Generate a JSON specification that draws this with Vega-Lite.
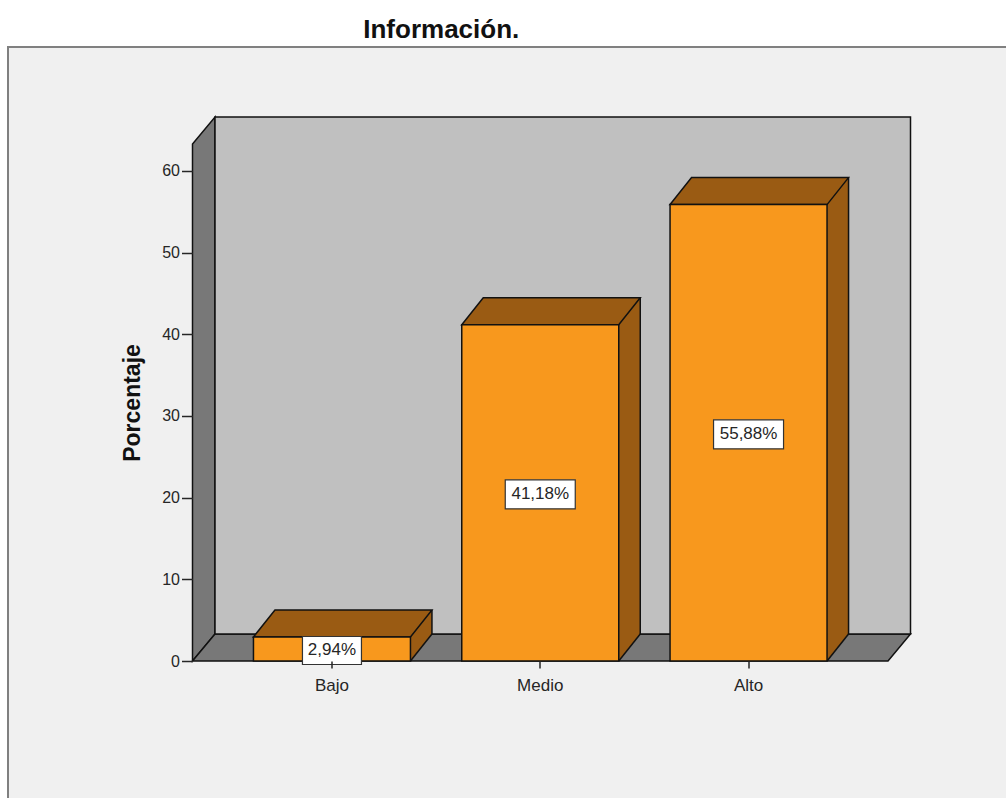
{
  "$schema": "https://vega.github.io/schema/vega-lite/v6.json",
  "width": 695.5,
  "height": 517,
  "autosize": {"type": "none"},
  "padding": {"left": 192.5, "top": 144, "right": 118, "bottom": 137},
  "background": "white",
  "config": {"view": {"stroke": null}, "font": "Liberation Sans"},
  "title": {
    "text": "Información.",
    "font": "Liberation Sans",
    "fontSize": 26,
    "fontWeight": "bold",
    "color": "#111111",
    "anchor": "middle",
    "frame": "group",
    "baseline": "alphabetic",
    "dx": -99,
    "dy": 27,
    "offset": 9
  },
  "data": {
    "values": [
      {"Categoria": "Bajo", "Porcentaje": 2.94, "Etiqueta": "2,94%"},
      {"Categoria": "Medio", "Porcentaje": 41.18, "Etiqueta": "41,18%"},
      {"Categoria": "Alto", "Porcentaje": 55.88, "Etiqueta": "55,88%"}
    ]
  },
  "resolve": {"scale": {"y": "independent"}},
  "layer": [
    {
      "description": "outer chart frame",
      "data": {"values": [{}]},
      "mark": {"type": "rect", "fill": "#f0f0f0", "stroke": "#808080", "strokeWidth": 2},
      "encoding": {
        "x": {"value": -184.5},
        "x2": {"value": 830},
        "y": {"value": -97},
        "y2": {"value": 670}
      }
    },
    {
      "description": "left wall",
      "data": {"values": [{}]},
      "mark": {"type": "point", "shape": "M0,0 V-517 L22.5,-544 V-27 Z", "size": 4, "filled": true, "opacity": 1, "fill": "#787878", "stroke": "#111111", "strokeWidth": 1.5},
      "encoding": {"x": {"value": 0}, "y": {"datum": 0, "type": "quantitative", "scale": {"domain": [0, 63.3], "nice": false}, "axis": null}}
    },
    {
      "description": "floor",
      "data": {"values": [{}]},
      "mark": {"type": "point", "shape": "M0,0 H695.5 L718,-27 H22.5 Z", "size": 4, "filled": true, "opacity": 1, "fill": "#787878", "stroke": "#111111", "strokeWidth": 1.5},
      "encoding": {"x": {"value": 0}, "y": {"datum": 0, "type": "quantitative", "scale": {"domain": [0, 63.3], "nice": false}, "axis": null}}
    },
    {
      "description": "back wall",
      "data": {"values": [{}]},
      "mark": {"type": "point", "shape": "M22.5,-27 V-544 H718 V-27 Z", "size": 4, "filled": true, "opacity": 1, "fill": "#c0c0c0", "stroke": "#111111", "strokeWidth": 1.5},
      "encoding": {"x": {"value": 0}, "y": {"datum": 0, "type": "quantitative", "scale": {"domain": [0, 63.3], "nice": false}, "axis": null}}
    },
    {
      "description": "bar side face",
      "mark": {"type": "bar", "width": 21.5, "xOffset": 89.25, "yOffset": -27, "y2Offset": -27, "fill": "#9a5b13", "strokeWidth": 0},
      "encoding": {
        "x": {"field": "Categoria", "type": "nominal", "sort": ["Bajo", "Medio", "Alto"]},
        "y": {"field": "Porcentaje", "type": "quantitative", "scale": {"domain": [0, 63.3], "nice": false}, "axis": null},
        "y2": {"datum": 0}
      }
    },
    {
      "description": "lower corner of the side face",
      "mark": {"type": "point", "shape": "M78.5,0 V-28 H100 V-27 Z", "size": 4, "filled": true, "opacity": 1, "fill": "#9a5b13", "strokeWidth": 0},
      "encoding": {
        "x": {"field": "Categoria", "type": "nominal", "sort": ["Bajo", "Medio", "Alto"]},
        "y": {"datum": 0, "type": "quantitative", "scale": {"domain": [0, 63.3], "nice": false}, "axis": null}
      }
    },
    {
      "description": "back vertical edge of each bar",
      "mark": {"type": "rule", "xOffset": 100, "yOffset": -27, "y2Offset": -27, "stroke": "#111111", "strokeWidth": 1.5},
      "encoding": {
        "x": {"field": "Categoria", "type": "nominal", "sort": ["Bajo", "Medio", "Alto"]},
        "y": {"field": "Porcentaje", "type": "quantitative", "scale": {"domain": [0, 63.3], "nice": false}, "axis": null},
        "y2": {"datum": 0}
      }
    },
    {
      "description": "lower diagonal edge of the side face",
      "mark": {"type": "point", "shape": "M78.5,0 L100,-27", "size": 4, "filled": false, "opacity": 1, "stroke": "#111111", "strokeWidth": 1.5},
      "encoding": {
        "x": {"field": "Categoria", "type": "nominal", "sort": ["Bajo", "Medio", "Alto"]},
        "y": {"datum": 0, "type": "quantitative", "scale": {"domain": [0, 63.3], "nice": false}, "axis": null}
      }
    },
    {
      "description": "bar top face",
      "mark": {"type": "point", "shape": "M-78.5,0 H78.5 L100,-27 H-57 Z", "size": 4, "filled": true, "opacity": 1, "fill": "#9a5b13", "stroke": "#111111", "strokeWidth": 1.5},
      "encoding": {
        "x": {"field": "Categoria", "type": "nominal", "sort": ["Bajo", "Medio", "Alto"]},
        "y": {"field": "Porcentaje", "type": "quantitative", "scale": {"domain": [0, 63.3], "nice": false}, "axis": null}
      }
    },
    {
      "description": "bar front face",
      "mark": {"type": "bar", "width": 157, "fill": "#f8981d", "stroke": "#111111", "strokeWidth": 1.5},
      "encoding": {
        "x": {
          "field": "Categoria",
          "type": "nominal",
          "sort": ["Bajo", "Medio", "Alto"],
          "scale": {"paddingInner": 0.247, "paddingOuter": 0.293},
          "axis": {
            "title": null,
            "labelAngle": 0,
            "labelAlign": "center",
            "labelBaseline": "middle",
            "labelFont": "Liberation Sans",
            "labelFontSize": 17,
            "labelColor": "#262626",
            "labelPadding": 17,
            "tickSize": 7,
            "tickColor": "#262626",
            "tickWidth": 1.5,
            "domain": false,
            "zindex": 1
          }
        },
        "y": {
          "field": "Porcentaje",
          "type": "quantitative",
          "scale": {"domain": [0, 63.3], "nice": false},
          "axis": {
            "title": "Porcentaje",
            "titleFont": "Liberation Sans",
            "titleFontSize": 23,
            "titleFontWeight": "bold",
            "titleColor": "#111111",
            "titlePadding": 17,
            "values": [0, 10, 20, 30, 40, 50, 60],
            "labelFont": "Liberation Sans",
            "labelFontSize": 16,
            "labelColor": "#262626",
            "labelPadding": 2,
            "tickSize": 11,
            "tickColor": "#262626",
            "tickWidth": 1.5,
            "domain": false,
            "grid": false,
            "zindex": 1
          }
        },
        "y2": {"datum": 0}
      }
    },
    {
      "description": "value label boxes at the middle of each bar (half-height scale)",
      "mark": {"type": "point", "size": 4, "filled": true, "opacity": 1, "fill": "white", "stroke": "#333333", "strokeWidth": 1.2, "yOffset": 1.5},
      "encoding": {
        "x": {"field": "Categoria", "type": "nominal", "sort": ["Bajo", "Medio", "Alto"]},
        "y": {"field": "Porcentaje", "type": "quantitative", "scale": {"domain": [0, 126.6], "nice": false}, "axis": null},
        "shape": {
          "field": "Categoria",
          "type": "nominal",
          "scale": {
            "domain": ["Bajo", "Medio", "Alto"],
            "range": ["M-29.5,-14 H29.5 V14 H-29.5 Z", "M-35,-14.5 H35 V14.5 H-35 Z", "M-35,-14.5 H35 V14.5 H-35 Z"]
          },
          "legend": null
        }
      }
    },
    {
      "description": "value label text",
      "mark": {"type": "text", "font": "Liberation Sans", "fontSize": 17, "color": "#262626", "baseline": "middle", "align": "center", "yOffset": 1.5},
      "encoding": {
        "x": {"field": "Categoria", "type": "nominal", "sort": ["Bajo", "Medio", "Alto"]},
        "y": {"field": "Porcentaje", "type": "quantitative", "scale": {"domain": [0, 126.6], "nice": false}, "axis": null},
        "text": {"field": "Etiqueta", "type": "nominal"}
      }
    }
  ]
}
